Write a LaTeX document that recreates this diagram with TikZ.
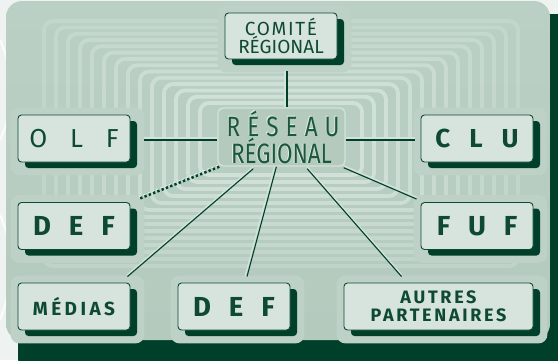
\documentclass[tikz,border=0pt]{standalone}
\usepackage{fontspec}
\usepackage{graphicx}
\setmainfont{Fira Sans}
\usetikzlibrary{calc,shadows}
\pgfdeclarelayer{ground}
\pgfdeclarelayer{halo}
\pgfsetlayers{ground,halo,main}

\definecolor{ink}{HTML}{0D4A31}
\definecolor{deep}{HTML}{00402A}
\definecolor{paper}{HTML}{EEF2F0}
\definecolor{panel}{HTML}{B3CABD}
\definecolor{paneltop}{HTML}{BBD0C5}
\definecolor{stripe}{HTML}{D3E3DA}
\definecolor{haze}{HTML}{BDD1C6}
\definecolor{boxfill}{HTML}{D7E3DD}
\definecolor{glint}{HTML}{E6EFEA}
\definecolor{netink}{HTML}{1A583C}

% light relief behind a word
\newcommand\emboss[1]{\leavevmode\rlap{\kern-1.1pt\raisebox{0.9pt}{\color{glint}#1}}#1}

\tikzset{
  card/.style={draw=ink, line width=0.9pt, fill=boxfill, rounded corners=3.5pt,
    text=ink, align=center, inner sep=0pt, minimum height=47pt, minimum width=112pt,
    general shadow={fill=deep, shadow xshift=7pt, shadow yshift=-6pt}},
  hub/.style={draw=stripe, line width=1.4pt, fill=panel, rounded corners=5pt,
    text=netink, align=center, inner sep=0pt, minimum width=127pt, minimum height=58pt},
  wire/.style={draw=deep, line width=1.1pt,
    preaction={draw=stripe, line width=1.4pt, transform canvas={shift={(0pt,1.9pt)}}}},
  wirev/.style={draw=deep, line width=1.1pt,
    preaction={draw=stripe, line width=1.4pt, transform canvas={shift={(-1.9pt,0pt)}}}},
  beads/.style={draw=deep, line width=2.5pt, dash pattern=on 2.4pt off 2.2pt,
    preaction={draw=glint, line width=2.5pt, dash pattern=on 2.4pt off 2.2pt,
      transform canvas={shift={(-0.9pt,0.9pt)}}}},
}

\begin{document}
\begin{tikzpicture}[x=1pt, y=-1pt]
\useasboundingbox (0,0) rectangle (558,360);

\begin{pgfonlayer}{ground}
  \fill[paper] (0,0) rectangle (558,360);
  \draw[white, line width=2pt, opacity=0.8] (0,40) .. controls (14,70) and (14,110) .. (0,140);
  \draw[white, line width=2pt, opacity=0.8] (0,215) .. controls (14,245) and (14,285) .. (0,320);
  % panel and its drop shadow
  \fill[deep, rounded corners=16pt] (18,14) rectangle (572,374);
  \shade[top color=paneltop, bottom color=panel, rounded corners=16pt] (6,1) rectangle (550,340);
  % nested frames radiating from the hub
  \foreach \k in {0,...,13} {
    \pgfmathsetmacro\op{0.95-0.045*\k}
    \draw[stripe, line width=3.8pt, opacity=\op, rounded corners=9pt]
      ({200-12*\k},{103-6.3*\k}) rectangle ({362+12*\k},{175+7*\k});
  }
\end{pgfonlayer}

\node[card, minimum height=46pt, font=\fontsize{19}{17.5}\selectfont] (comite) at (281,36)
  {{\addfontfeatures{LetterSpace=9}COMITÉ}\\RÉGIONAL};
\node[card, font=\fontsize{26}{28}\selectfont] (olf) at (74,138.5) {O\hspace{0.88em}L\hspace{0.88em}F};
\node[card, font=\fontsize{26}{28}\selectfont\bfseries] (clu) at (477,138.5) {C\hspace{0.73em}L\hspace{0.73em}U};
\node[card, font=\fontsize{27.5}{28}\selectfont\bfseries] (defl) at (74,226) {D\hspace{0.65em}E\hspace{0.65em}F};
\node[card, font=\fontsize{27.5}{28}\selectfont\bfseries] (fuf) at (477,226) {F\hspace{0.65em}U\hspace{0.65em}F};
\node[card, font=\fontsize{19}{20}\selectfont\bfseries] (medias) at (74,306.5)
  {{\addfontfeatures{LetterSpace=18}MÉDIAS}};
\node[card, font=\fontsize{27.5}{28}\selectfont\bfseries] (defm) at (234,306.5) {D\hspace{0.65em}E\hspace{0.65em}F};
\node[card, minimum width=189pt, font=\fontsize{18}{18}\selectfont\bfseries] (autres) at (438.5,306.5)
  {{\addfontfeatures{LetterSpace=15}AUTRES}\\{\addfontfeatures{LetterSpace=15}PARTENAIRES}};

\node[hub, font=\fontsize{28}{25}\selectfont] (reseau) at (281.5,137)
  {\scalebox{0.8}[1]{\emboss{\addfontfeatures{LetterSpace=32}RÉSEAU\kern-4pt}}\\
   \scalebox{0.8}[1]{\emboss{RÉGIONAL}}};

\begin{pgfonlayer}{halo}
  \foreach \n in {comite,olf,clu,defl,fuf,medias,defm,autres}
    \fill[haze, rounded corners=9pt] ($(\n.north west)+(-7,-7)$) rectangle ($(\n.south east)+(14,13)$);
\end{pgfonlayer}

% connectors
\coordinate (cfoot) at ($(comite.south)+(6,12)$);
\draw[wirev] (cfoot) -- (cfoot |- reseau.north);
\draw[wire] ($(olf.east)+(14,1.5)$) -- ($(reseau.west)+(0,3)$);
\draw[wire] ($(reseau.east)+(0,3)$) -- ($(clu.west)+(-6,1.5)$);
\draw[beads] ($(reseau.south west)+(2,0)$) -- ($(defl.north east)+(8,-3)$);
\draw[wire] ($(reseau.south west)!0.28!(reseau.south east)+(0,2)$) -- ($(medias.north east)+(-3,-6)$);
\draw[wirev] ($(reseau.south west)!0.46!(reseau.south east)+(0,0)$) -- ($(defm.north)+(13,-6)$);
\draw[wire] ($(reseau.south west)!0.70!(reseau.south east)+(0,2)$) -- ($(autres.north west)+(58,-6)$);
\draw[wire] ($(reseau.south east)+(-2,1)$) -- ($(fuf.north west)+(-4,-3)$);
\end{tikzpicture}
\end{document}
